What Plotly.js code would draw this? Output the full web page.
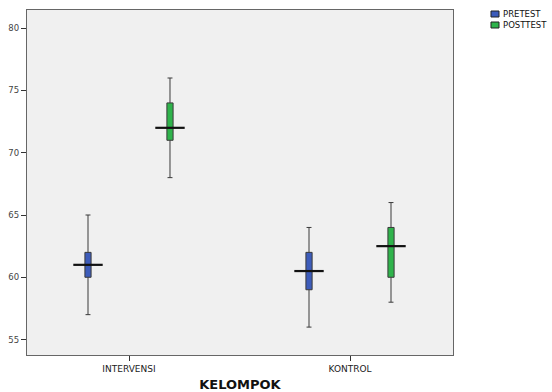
<!DOCTYPE html>
<html><head><meta charset="utf-8">
<script src="https://cdn.plot.ly/plotly-3.0.1.min.js"></script>
<style>html,body{margin:0;padding:0;background:#fff}#chart{width:552px;height:392px}</style>
</head><body><div id="chart"></div>
<script>
// Data
var categories = ["INTERVENSI", "KONTROL"];
var seriesNames = ["PRETEST", "POSTTEST"];
var pretestLower  = [57, 56];
var pretestQ1     = [60, 59];
var pretestMedian = [61, 60.5];
var pretestQ3     = [62, 62];
var pretestUpper  = [65, 64];
var postLower  = [68, 58];
var postQ1     = [71, 60];
var postMedian = [72, 62.5];
var postQ3     = [74, 64];
var postUpper  = [76, 66];
var yTicks = [55, 60, 65, 70, 75, 80];

// Style / positioning
var offset = 0.1855;
var boxW = 0.028;
var colors = ["#3d5cba", "#2fb34b"];
var FONT = 'DejaVu Sans, Liberation Sans, Arial, sans-serif';
var idx = categories.map(function(_, i){ return i; });
function pos(sign){ return idx.map(function(i){ return i + sign*offset; }); }

var series = [
  {name: seriesNames[0], lo: pretestLower, q1: pretestQ1, med: pretestMedian, q3: pretestQ3, hi: pretestUpper, x: pos(-1), color: colors[0]},
  {name: seriesNames[1], lo: postLower, q1: postQ1, med: postMedian, q3: postQ3, hi: postUpper, x: pos(1), color: colors[1]}
];

var traces = [];
series.forEach(function(s){
  traces.push({
    type: 'box', name: s.name, x: s.x,
    q1: s.q1, median: s.med, q3: s.q3, lowerfence: s.lo, upperfence: s.hi,
    width: boxW, whiskerwidth: 0.8,
    fillcolor: s.color, line: {color: '#3a3a3a', width: 1},
    boxpoints: false, hoverinfo: 'skip', showlegend: false
  });
});
series.forEach(function(s){
  traces.push({
    type: 'scatter', mode: 'markers', x: s.x, y: s.med, showlegend: false, hoverinfo: 'skip',
    marker: {symbol: 'line-ew', size: 21, line: {color: '#111', width: 2.2}}
  });
});

// Manual legend (swatches + labels) placed in paper coordinates
var shapes = [], annotations = [];
var legX0 = 1.0892, legX1 = 1.108;
var legRows = [{y0: 0.9797, y1: 0.9971, ty: 0.9884}, {y0: 0.9478, y1: 0.9652, ty: 0.9565}];
series.forEach(function(s, i){
  var r = legRows[i];
  shapes.push({type: 'rect', xref: 'paper', yref: 'paper', x0: legX0, x1: legX1, y0: r.y0, y1: r.y1,
               fillcolor: s.color, line: {color: '#222', width: 1}});
  annotations.push({xref: 'paper', yref: 'paper', x: 1.112, y: r.ty, xanchor: 'left', yanchor: 'middle',
                    text: s.name, showarrow: false, font: {family: FONT, size: 8.5, color: '#111'}});
});

var layout = {
  width: 552, height: 392,
  margin: {l: 27, r: 99, t: 10, b: 37},
  paper_bgcolor: '#ffffff', plot_bgcolor: '#f0f0f0',
  font: {family: FONT, color: '#222', size: 9},
  showlegend: false,
  shapes: shapes, annotations: annotations,
  xaxis: {
    range: [-0.4615, 1.466], tickvals: idx, ticktext: categories,
    showgrid: false, zeroline: false, showline: true, linecolor: '#666', linewidth: 1.2, mirror: true,
    ticks: 'outside', ticklen: 5, tickcolor: '#333', tickfont: {family: FONT, size: 9, color: '#222'},
    title: {text: '<b>KELOMPOK</b>', font: {family: FONT, size: 13, color: '#111'}, standoff: 9}
  },
  yaxis: {
    range: [53.76, 81.46], tickvals: yTicks,
    showgrid: false, zeroline: false, showline: true, linecolor: '#666', linewidth: 1.2, mirror: true,
    ticks: 'outside', ticklen: 5, tickcolor: '#333', tickfont: {family: FONT, size: 8.5, color: '#444'}
  }
};

Plotly.newPlot('chart', traces, layout, {displayModeBar: false, staticPlot: true});
</script>
</body></html>
